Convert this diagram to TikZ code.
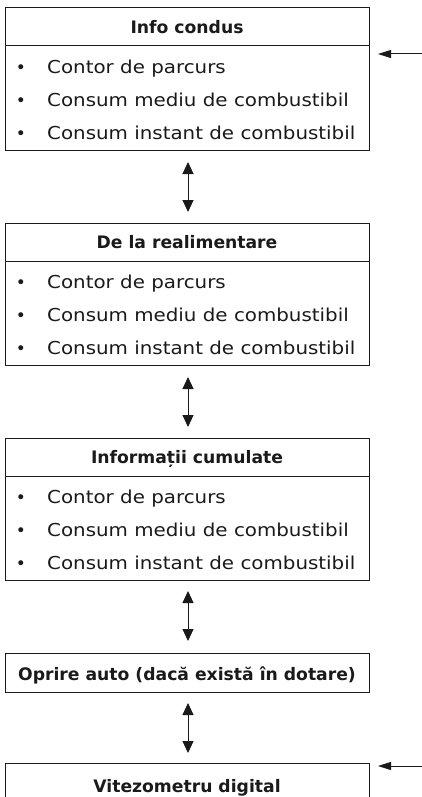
\documentclass[tikz,border=0pt]{standalone}
\usepackage{fontspec}
\usetikzlibrary{arrows.meta,calc}
\newfontfamily\regf{DejaVu Sans}[FakeStretch=1.115]
\newfontfamily\hdrf{DejaVu Sans}
\definecolor{ink}{HTML}{1A1A1A}
\tikzset{
  frame/.style={draw=ink, line width=1pt, minimum width=364pt, inner sep=0pt, outer sep=0pt},
  hdrtext/.style={font=\hdrf\bfseries\fontsize{17.2}{20}\selectfont, text=ink, inner sep=0pt, anchor=base},
  rowtext/.style={font=\regf\fontsize{17.8}{20}\selectfont, text=ink, inner sep=0pt, anchor=base west},
  dot/.style={font=\hdrf\fontsize{17}{20}\selectfont, text=ink, inner sep=0pt, anchor=base},
  dbl/.style={draw=ink, line width=1pt, {Triangle[length=12pt,width=11pt]}-{Triangle[length=12pt,width=11pt]}},
  sidearr/.style={draw=ink, line width=1pt, -{Triangle[length=13pt,width=8pt]}}
}
\newcommand{\listbox}[3]{%
  \node[frame, minimum height=38pt, anchor=north] (#1h) at (187pt,-#2pt) {};
  \node[frame, minimum height=104pt, anchor=north] (#1b) at (#1h.south) {};
  \node[hdrtext] (#1t) at ([yshift=-25.5pt]#1h.north) {#3};
  \node[dot] (#1d1) at ([xshift=16pt,yshift=-27.5pt]#1b.north west) {•};
  \node[dot] (#1d2) at ([xshift=16pt,yshift=-60.5pt]#1b.north west) {•};
  \node[dot] (#1d3) at ([xshift=16pt,yshift=-93.5pt]#1b.north west) {•};
  \node[rowtext] (#1r1) at ([xshift=42pt,yshift=-27.5pt]#1b.north west) {Contor de parcurs};
  \node[rowtext] (#1r2) at ([xshift=42pt,yshift=-60.5pt]#1b.north west) {Consum mediu de combustibil};
  \node[rowtext] (#1r3) at ([xshift=42pt,yshift=-93.5pt]#1b.north west) {Consum instant de combustibil};
}
\begin{document}
\begin{tikzpicture}[x=1pt,y=1pt]
\clip (0,0) rectangle (422,-797);
\fill[white] (0,0) rectangle (422,-797);
\listbox{a}{8}{Info condus}
\listbox{b}{223}{De la realimentare}
\listbox{c}{438}{Informații cumulate}
\node[frame, minimum height=39pt, anchor=north] (dh) at (187,-653) {};
\node[hdrtext] (dt) at ([yshift=-27.7pt]dh.north) {Oprire auto (dacă există în dotare)};
\node[frame, minimum height=44pt, anchor=north] (eh) at (187,-763) {};
\node[hdrtext] (et) at ([yshift=-29pt]eh.north) {Vitezometru digital};
\draw[dbl, shorten <=12pt, shorten >=11pt] ([xshift=1pt]ab.south) -- ([xshift=1pt]bh.north);
\draw[dbl, shorten <=12pt, shorten >=11pt] ([xshift=1pt]bb.south) -- ([xshift=1pt]ch.north);
\draw[dbl, shorten <=11pt, shorten >=12pt] ([xshift=1pt]cb.south) -- ([xshift=1pt]dh.north);
\draw[dbl, shorten <=11pt, shorten >=10pt] ([xshift=1pt]dh.south) -- ([xshift=1pt]eh.north);
\coordinate (ina) at (422,-54);
\coordinate (ine) at (422,-766);
\draw[sidearr, shorten >=9pt] (ina) -- (ina -| ah.east);
\draw[sidearr, shorten >=9pt] (ine) -- (ine -| eh.east);
\end{tikzpicture}
\end{document}
